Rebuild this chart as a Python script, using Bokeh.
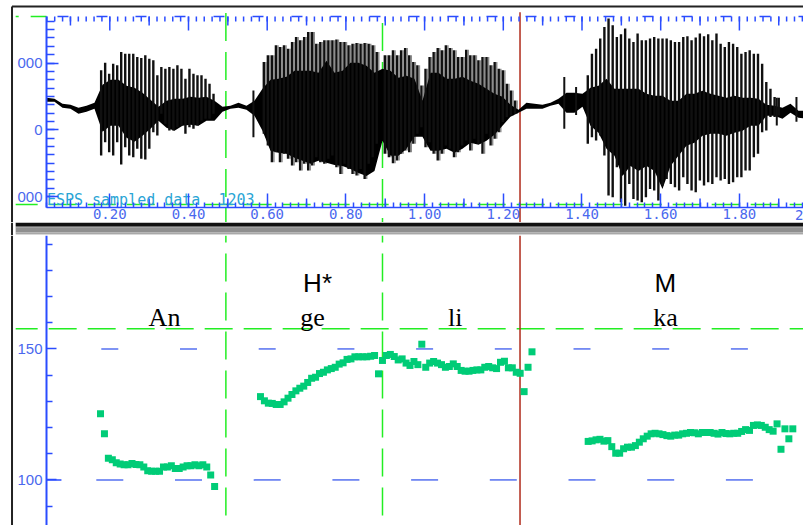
from bokeh.plotting import figure
from bokeh.layouts import column
from bokeh.models import LinearAxis, FixedTicker, Range1d
from bokeh.core.properties import value
from bokeh.embed import file_html
from bokeh.resources import INLINE

# ---- data ----
x_major = [0.2, 0.4, 0.6, 0.8, 1.0, 1.2, 1.4, 1.6, 1.8]
x_medium = [0.1, 0.3, 0.5, 0.7, 0.9, 1.1, 1.3, 1.5, 1.7, 1.9]
x_minor = [round(0.04 + 0.02 * i, 2) for i in range(97)]
x_labels = {t: f"{t:.2f}" for t in x_major}
wave_major = [5000, 0, -5000]
wave_labels = {5000: "000", 0: "0", -5000: "000"}
wave_minor = [8125 - 625 * i for i in range(22)]
pitch_major = [100, 150]
pitch_minor = [90, 110, 120, 130, 140, 160, 170, 180, 190]
marks = [0.495, 0.893, 1.2425]
segment_labels = ["An", "ge", "li", "ka"]
segment_times = [0.339, 0.715, 1.078, 1.612]
tone_labels = ["H*", "M"]
tone_times = [0.728, 1.612]

# envelope of the solid part of the waveform
env_step = 0.02033
env_hi = [2400, 2325, 1950, 1875, 1650, 1800, 2025, 3375, 3750, 3750, 3300, 3150, 2775, 2250, 1725, 2175,
          2325, 2325, 2475, 2400, 2475, 2175, 1725, 1800, 2025, 1800, 2175, 3075, 3750, 3825, 3975, 4425,
          4425, 4425, 4275, 5175, 4275, 4425, 5025, 5025, 4800, 4275, 4575, 4425, 3900, 4050, 3825, 2175,
          4275, 4275, 3825, 3825, 3975, 3675, 3450, 3075, 2700, 2475, 1875, 1500, 2025, 1950, 1875, 2025,
          2325, 2775, 2775, 2700, 3150, 3300, 3825, 3075, 3075, 3075, 3075, 2700, 2550, 2550, 2175, 2175,
          2700, 2700, 2925, 2700, 2550, 2400, 2550, 2400, 2400, 2325, 1875, 1800, 1650, 1950, 1425, 1425]
env_lo = [2100, 2100, 1650, 1575, 1200, 1350, 1575, -150, 300, 300, -600, -900, -450, 75, 675, 150,
          -75, 300, 375, 300, 675, 675, 1350, 1575, 1650, 1500, 1050, -75, -1575, -1725, -1800, -2100,
          -2325, -2550, -2325, -2475, -2625, -2700, -2925, -3225, -3450, -3075, -825, -1950, -1950, -1425, -525, -525,
          -1575, -1575, -1425, -1725, -1425, -975, -1125, -825, -375, 300, 975, 1275, 1575, 1575, 1575, 1800,
          1950, 1275, 1275, 1725, 300, -225, -1425, -1950, -3450, -2700, -3075, -2700, -3075, -4425, -2700, -1950,
          -1200, -975, -450, -300, -300, -450, -225, -75, 300, 300, 1050, 1050, 825, 1275, 900, 825]

# pitch-period peaks per syllable
an_start, an_period = 0.178, 0.0102
an_hi = [4450, 5025, 4200, 4950, 4825, 5825, 5700, 5700, 5700, 5450, 5375, 5575, 5325, 5200, 4075, 4700,
         4575, 4700, 4575, 4825, 4575, 3825, 4575, 4200, 4075, 4075, 3825, 3450, 2700]
an_lo = [-1925, -925, -1675, -1925, -925, -2600, -1300, -1925, -2050, -1425, -2175, -2225, -1425, -175, -425,
         1200, 450, -50, -50, 200, 325, -300, 200, 75, 325, 700, 825, 825, 1200]
ge_start, ge_period = 0.5914, 0.01025
ge_hi = [5075, 5575, 5575, 6325, 6200, 6325, 6075, 6575, 6950, 6700, 6950, 7325, 7325, 6450, 6575, 6700,
         6700, 6700, 6750, 6575, 6575, 6325, 6450, 6500, 6450, 6500, 6450, 6325, 5825]
ge_lo = [-300, -1175, -2425, -1675, -2425, -1800, -2175, -2675, -2425, -3050, -2550, -3050, -2675, -2050, -2425,
         -2550, -2175, -1925, -2800, -3300, -2550, -2925, -3300, -3425, -2925, -3675, -2550, -2050, -1050]
li_start, li_period = 0.8989, 0.01034
li_hi = [5575, 5575, 5950, 5575, 5950, 6125, 5575, 5075, 4825, 3325, 4575, 5450, 5825, 6125, 5950, 6325, 6125,
         5950, 5450, 5450, 6000, 5575, 5575, 5200, 5450, 5450, 4825, 5075, 4575, 4450, 3450, 2950, 2200]
li_lo = [-1800, -2050, -2500, -2300, -1800, -1550, -1675, -1050, -300, 200, -1300, -925, -1800, -2300, -1800,
         -1175, -1425, -2050, -1675, -1175, -800, -1550, -675, -1050, -1800, -300, -1175, -675, -175, 575, 950, 1075, 1200]
ka_start, ka_period = 1.4147, 0.01055
ka_hi = [4075, 5700, 6075, 6825, 7700, 8325, 7825, 6950, 7150, 7575, 6825, 6575, 7200, 6700, 6700, 6825, 6950,
         6825, 6825, 6825, 6700, 6575, 6575, 6950, 7000, 6700, 6900, 7200, 7000, 7150, 6700, 7200, 6450, 6200,
         6575, 6450, 6200, 5700, 5825, 5950, 5700, 5700, 4950, 3575, 3075, 2450, 2400]
ka_lo = [-1050, -550, -800, -425, -1925, -4925, -5050, -2800, -5425, -5675, -4050, -5175, -5300, -5425, -5050,
         -4425, -4550, -5300, -4175, -3675, -4050, -4300, -4550, -3550, -4050, -4550, -4675, -3800, -4175, -3925,
         -4050, -3550, -3800, -3675, -4050, -3925, -3550, -3550, -3050, -3050, -2050, -1800, -175, -50, 950, 950, 1075]
burst_t = [0.565, 1.355, 1.385, 1.895, 1.945]
burst_hi = [2950, 3950, 3200, 2400, 2450]
burst_lo = [-550, 75, 1100, 325, 600]

# pitch track (Hz), one value every 10 ms
an_f0_start = 0.1764
an_f0 = [125.3, 117.6, 108.3, 107.7, 106.6, 106.1, 105.8, 105.8, 106.3, 105.9, 105.8, 104.9, 103.5, 103.3, 103.3,
         103.3, 104.9, 104.9, 105.4, 104.4, 104.4, 104.9, 105.4, 105.4, 105.8, 105.4, 105.8, 104.9, 101.9, 97.5]
ge_f0_start = 0.5829
ge_f0 = [131.8, 130.2, 129.3, 129.2, 128.8, 128.8, 129.8, 131.2, 132.6, 134.0, 135.0, 135.8, 137.2, 138.8, 139.2,
         140.6, 141.1, 142.0, 142.5, 143.0, 144.2, 144.7, 146.0, 146.2, 147.0, 147.0, 147.0, 147.0, 147.2, 147.5,
         140.5, 145.6, 147.5, 147.9, 147.1, 145.8, 146.2, 144.6, 143.7, 145.2, 144.0, 151.8, 143.0, 144.6, 145.2,
         144.6, 144.0, 143.0, 143.3, 144.3, 143.3, 141.8, 141.5, 141.5, 141.8, 142.0, 142.0, 143.0, 143.3, 142.8,
         142.5, 144.9, 145.3, 142.8, 142.8, 141.1, 140.7, 133.7, 143.0, 148.9]
ka_f0_start = 1.4157
ka_f0 = [114.7, 114.9, 115.3, 115.5, 114.8, 115.0, 112.7, 110.2, 110.2, 111.9, 112.5, 112.5, 113.1, 114.4, 115.7,
         116.7, 117.6, 117.8, 117.6, 117.3, 116.9, 116.7, 117.1, 117.1, 117.6, 117.8, 118.1, 118.0, 117.6, 118.1,
         118.1, 118.1, 117.8, 117.5, 118.1, 117.7, 117.6, 117.8, 117.8, 118.5, 119.2, 118.9, 120.8, 121.0, 120.8,
         120.1, 119.2, 118.6, 121.4, 111.7, 119.5, 115.7, 119.5]

# ---- styling and frame ----
T0, T1 = -0.07776, 1.9629
T_AXIS, T_LEFT, T_BORDER = 0.0391, -0.0392, -0.0485
BLUE, LABEL_BLUE, GREEN, RED, TEAL = "#2a4cff", "#4a68ee", "#22ee22", "#b02a1a", "#00cc77"
W = 803
WAVE_TOP, WAVE_BOTTOM = 9678, -6938
BORDER_Y = 9229
AX_TOP, AX_BOTTOM = 8480, -5816
WAVE_GREEN = -5600
PITCH_TOP, PITCH_BOTTOM = 193.3, 82.6
TOP_TICK_UNIT = 74.85  # amplitude units per pixel, for tick lengths drawn inside the pane


def base(h, y0, y1):
    f = figure(width=W, height=h, x_range=Range1d(T0, T1), y_range=Range1d(y0, y1),
               x_axis_type=None, y_axis_type=None, toolbar_location=None,
               output_backend="svg", min_border=0, outline_line_color=None,
               background_fill_color="white", border_fill_color="white")
    f.grid.visible = False
    return f


# ---- waveform pane ----
top = base(222, WAVE_BOTTOM, WAVE_TOP)
top.segment(x0=[T_BORDER], y0=[WAVE_BOTTOM], x1=[T_BORDER], y1=[BORDER_Y], line_color="#222222", line_width=2)
top.segment(x0=[T_BORDER], y0=[BORDER_Y], x1=[T1], y1=[BORDER_Y], line_color="#222222", line_width=2)
top.segment(x0=[T_LEFT], y0=[WAVE_GREEN], x1=[T1], y1=[WAVE_GREEN], line_color=GREEN, line_width=1.5,
            line_dash="28 11", line_dash_offset=6)
top.segment(x0=[T_LEFT], y0=[AX_TOP], x1=[T_AXIS], y1=[AX_TOP], line_color=GREEN, line_width=1.5,
            line_dash="3 12 16 0")
top.segment(x0=marks[:2], y0=[8750, 8000], x1=marks[:2], y1=[WAVE_BOTTOM] * 2, line_color=GREEN, line_width=1.5,
            line_dash="28 11")
top.segment(x0=marks[2:], y0=[8800], x1=marks[2:], y1=[WAVE_BOTTOM], line_color=RED, line_width=1.5)

env_t = [T_AXIS + env_step * i for i in range(len(env_hi))]
# the faster "ge" and "li" periods leave grey stripes between the peaks
for start, period, hi, lo in [(ge_start, ge_period, ge_hi, ge_lo), (li_start, li_period, li_hi, li_lo)]:
    ts = [start + period * (i + 0.5) for i in range(len(hi))]
    top.segment(x0=ts, y0=lo, x1=ts, y1=hi, line_color="#8c8c8c", line_width=1.5)
top.varea(x=env_t, y1=env_lo, y2=env_hi, fill_color="black")
for start, period, hi, lo in [(an_start, an_period, an_hi, an_lo), (ge_start, ge_period, ge_hi, ge_lo),
                              (li_start, li_period, li_hi, li_lo), (ka_start, ka_period, ka_hi, ka_lo)]:
    ts = [start + period * i for i in range(len(hi))]
    top.segment(x0=ts, y0=lo, x1=ts, y1=hi, line_color="#101010", line_width=2.4)
top.segment(x0=burst_t, y0=burst_lo, x1=burst_t, y1=burst_hi, line_color="#111111", line_width=2)

# time ticks hanging from the top edge and rising from the bottom edge of the pane
TICK_STYLE = dict(line_color=BLUE, line_width=1.5)
for ticks, length in [(x_major, 14), (x_medium, 9), (x_minor, 5)]:
    n = len(ticks)
    top.segment(x0=ticks, y0=[AX_TOP] * n, x1=ticks, y1=[AX_TOP - length * TOP_TICK_UNIT] * n, **TICK_STYLE)
top.segment(x0=[T_AXIS], y0=[AX_TOP], x1=[T1], y1=[AX_TOP], line_dash="11 28", line_dash_offset=28, **TICK_STYLE)
n = len(x_medium)
top.segment(x0=x_medium, y0=[AX_BOTTOM] * n, x1=x_medium, y1=[AX_BOTTOM + 9 * TOP_TICK_UNIT] * n, **TICK_STYLE)

xa = LinearAxis(ticker=FixedTicker(ticks=x_major, minor_ticks=x_minor), fixed_location=AX_BOTTOM,
                bounds=(T_AXIS, T1), major_tick_in=14, major_tick_out=0, minor_tick_in=5,
                minor_tick_out=0, major_tick_line_color=BLUE, minor_tick_line_color=BLUE,
                major_tick_line_width=1.5, minor_tick_line_width=1.5, axis_line_color=BLUE,
                axis_line_width=1.5, major_label_overrides=x_labels, major_label_text_font="DejaVu Sans Mono",
                major_label_text_font_size="14px", major_label_text_color=LABEL_BLUE, major_label_standoff=1)
top.add_layout(xa, "below")

wy = LinearAxis(ticker=FixedTicker(ticks=wave_major, minor_ticks=wave_minor), fixed_location=T_AXIS,
                bounds=(AX_BOTTOM, AX_TOP), major_tick_in=12, major_tick_out=0, minor_tick_in=8, minor_tick_out=0,
                axis_line_color=BLUE, axis_line_width=2, major_tick_line_color=BLUE, minor_tick_line_color=BLUE,
                major_tick_line_width=1.5, minor_tick_line_width=1.5, major_label_overrides=wave_labels,
                major_label_text_font="Liberation Sans", major_label_text_font_size="15px",
                major_label_text_color=LABEL_BLUE, major_label_standoff=4)
top.add_layout(wy, "left")
top.text(x=[T_AXIS + 0.001], y=[-5220], text=["ESPS sampled data\u00a0\u00a01203"], text_font=value("DejaVu Sans Mono"),
         text_font_size="15px", text_color="#2aa5d5", text_baseline="alphabetic", text_align="left")
top.text(x=[T1], y=[-6414], text=["2"], text_font=value("DejaVu Sans Mono"), text_font_size="14px",
         text_color=LABEL_BLUE, text_baseline="middle", text_align="right")

# ---- scroll bar between the panes ----
bar = base(13, 0, 13)
bar.segment(x0=[T_BORDER], y0=[0], x1=[T_BORDER], y1=[13], line_color="#222222", line_width=2)
bar_rows = [(9.5, 13, "#111111"), (8, 9.5, "#6a6a6a"), (3, 8, "#8f8f8f"), (1.5, 3, "#a8a8a8"), (0, 1.5, "#d8d8d8")]
bar.quad(left=[T_LEFT] * 5, right=[T1] * 5, bottom=[r[0] for r in bar_rows], top=[r[1] for r in bar_rows],
         fill_color=[r[2] for r in bar_rows], line_color=None)

# ---- pitch pane ----
bot = base(290, PITCH_BOTTOM, PITCH_TOP)
bot.segment(x0=[T_BORDER], y0=[PITCH_BOTTOM], x1=[T_BORDER], y1=[PITCH_TOP], line_color="#222222", line_width=2)
bot.segment(x0=[T_LEFT], y0=[157.7], x1=[T1], y1=[157.7], line_color=GREEN, line_width=1.5,
            line_dash="28 11", line_dash_offset=6)
bot.segment(x0=marks[:2], y0=[PITCH_TOP] * 2, x1=marks[:2], y1=[PITCH_BOTTOM] * 2, line_color=GREEN, line_width=1.5,
            line_dash="28 11", line_dash_offset=21)
bot.segment(x0=marks[2:], y0=[PITCH_TOP], x1=marks[2:], y1=[PITCH_BOTTOM], line_color=RED, line_width=1.5)

dash_half = {100: 0.0343, 150: 0.0216}
for level, half in dash_half.items():
    bot.segment(x0=[t - half for t in x_major], y0=[level] * len(x_major),
                x1=[t + half for t in x_major], y1=[level] * len(x_major),
                line_color="#5570f0", line_width=1.5)
bot.segment(x0=[T_AXIS], y0=[100], x1=[T_AXIS + 0.038], y1=[100], line_color=BLUE, line_width=1.5)

for start, f0 in [(an_f0_start, an_f0), (ge_f0_start, ge_f0), (ka_f0_start, ka_f0)]:
    bot.scatter(x=[start + 0.01 * i for i in range(len(f0))], y=f0, marker="square", size=7,
                fill_color=TEAL, line_color=None)

py = LinearAxis(ticker=FixedTicker(ticks=pitch_major, minor_ticks=pitch_minor), fixed_location=T_AXIS,
                major_tick_in=10, major_tick_out=0, minor_tick_in=6, minor_tick_out=0,
                axis_line_color=BLUE, axis_line_width=2, major_tick_line_color=BLUE, minor_tick_line_color=BLUE,
                major_tick_line_width=1.5, minor_tick_line_width=1.5,
                major_label_text_font="Liberation Sans", major_label_text_font_size="15px",
                major_label_text_color=LABEL_BLUE, major_label_standoff=4)
bot.add_layout(py, "left")

bot.text(x=segment_times, y=[161.9] * 4, text=segment_labels, text_font=value("Liberation Serif"),
         text_font_size="26px", text_color="black", text_align="center", text_baseline="alphabetic")
bot.text(x=tone_times, y=[175.0] * 2, text=tone_labels, text_font=value("Liberation Sans"),
         text_font_size="26px", text_color="black", text_align="center", text_baseline="alphabetic")

page = column(top, bar, bot, spacing=0)
open("out.html", "w").write(file_html(page, INLINE))
